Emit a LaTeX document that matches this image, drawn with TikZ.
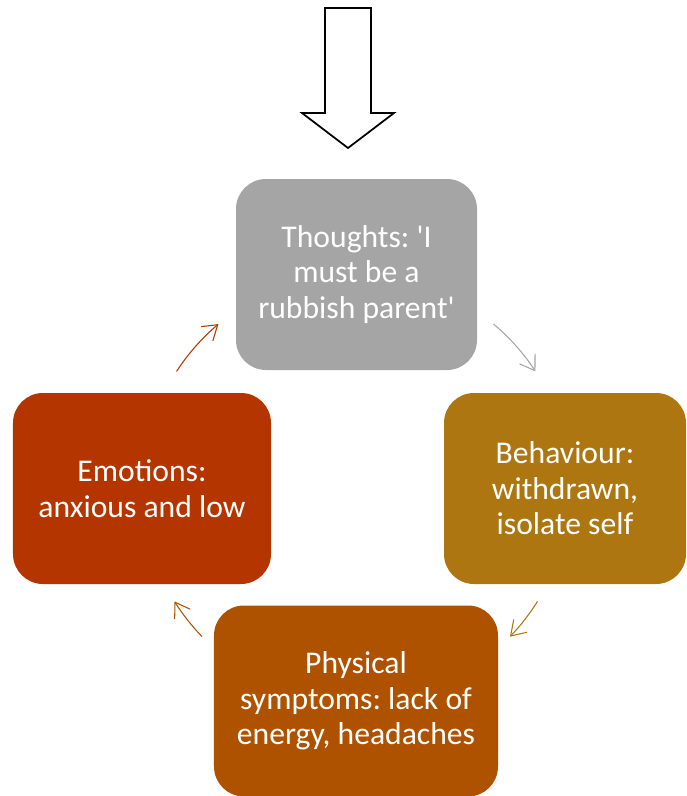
\documentclass[tikz,border=0pt]{standalone}
\usepackage{fontspec}
\setmainfont{Carlito}[Ligatures=TeXOff]
\usepackage{tikz}
\usetikzlibrary{arrows.meta,positioning}
\usepackage{xcolor}
\definecolor{thoughtgrey}{RGB}{165,165,165}
\definecolor{behavgold}{RGB}{174,118,16}
\definecolor{physorange}{RGB}{175,82,0}
\definecolor{emotred}{RGB}{180,53,0}
\frenchspacing

\begin{document}
\begin{tikzpicture}[x=0.2mm, y=-0.2mm,
    cyclebox/.style={rectangle, rounded corners=6mm, minimum height=38.2mm,
        inner sep=0pt, text=white, align=center,
        font=\fontsize{18}{20.2}\selectfont},
    cyclearr/.style={-{Straight Barb[length=8pt,width=10.5pt]}, line width=0.6pt}
]
    \useasboundingbox (0,0) rectangle (686,796);

    % Entry arrow on top
    \draw[line width=1pt, fill=white] (325,8) -- (371,8) -- (371,113) -- (394,113)
        -- (348,148) -- (302,113) -- (325,113) -- cycle;

    % The four boxes of the cycle
    \coordinate (hub) at (356,488);
    \node[cyclebox, fill=thoughtgrey, minimum width=48.2mm] (thoughts) at (356.5,274.5)
        {Thoughts: 'I\\must be a\\rubbish parent'};
    \node[cyclebox, fill=behavgold, minimum width=48.4mm] (behaviour) at (565,488.5)
        {Behaviour:\\withdrawn,\\isolate self};
    \node[cyclebox, fill=physorange, minimum width=56.8mm] (physical) at (356,701)
        {Physical\\symptoms: lack of\\energy, headaches};
    \node[cyclebox, fill=emotred, minimum width=51.6mm] (emotions) at (142,488.5)
        {Emotions:\\anxious and low};

    % Arrows round the cycle
    \coordinate (emo2tho) at ([shift={(-147:214)}]hub);
    \coordinate (tho2beh) at ([shift={(-50:214)}]hub);
    \coordinate (beh2phy) at ([shift={(32:214)}]hub);
    \coordinate (phy2emo) at ([shift={(136:214)}]hub);

    \draw[cyclearr, emotred] (emo2tho) arc[start angle=-147, end angle=-130, radius=214];
    \draw[cyclearr, thoughtgrey] (tho2beh) arc[start angle=-50, end angle=-33, radius=214];
    \draw[cyclearr, behavgold] (beh2phy) arc[start angle=32, end angle=44, radius=214];
    \draw[cyclearr, physorange] (phy2emo) arc[start angle=136, end angle=148, radius=214];
\end{tikzpicture}
\end{document}
